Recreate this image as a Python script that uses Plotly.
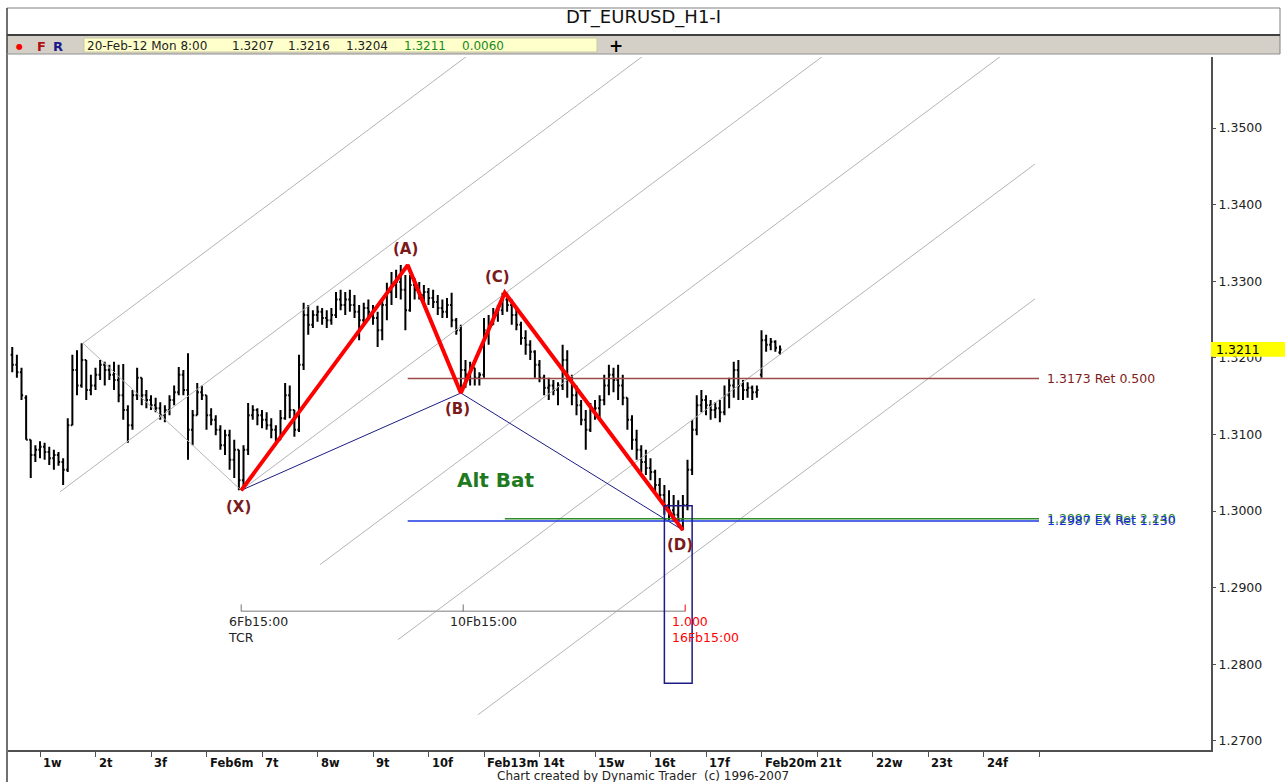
import numpy as np
import pandas as pd
import plotly.graph_objects as go

# ---------------- data ----------------
TITLE = "DT_EURUSD_H1-I"
bar_start = "2012-01-31 12:00"
bar_end = "2012-02-20 08:00"

opens = [
    1.3204, 1.3191, 1.3181, 1.3148, 1.3093, 1.3073, 1.3080, 1.3084, 1.3077, 1.3069, 1.3073, 1.3064,
    1.3054, 1.3112, 1.3184, 1.3164, 1.3197, 1.3158, 1.3164, 1.3178, 1.3191, 1.3184, 1.3178, 1.3171,
    1.3151, 1.3132, 1.3112, 1.3151, 1.3174, 1.3151, 1.3145, 1.3138, 1.3134, 1.3125, 1.3132, 1.3145,
    1.3155, 1.3178, 1.3158, 1.3106, 1.3125, 1.3155, 1.3151, 1.3125, 1.3119, 1.3106, 1.3086, 1.3099,
    1.3067, 1.3080, 1.3040, 1.3080, 1.3125, 1.3132, 1.3125, 1.3119, 1.3112, 1.3106, 1.3093, 1.3121,
    1.3151, 1.3132, 1.3106, 1.3191, 1.3256, 1.3243, 1.3256, 1.3260, 1.3252, 1.3249, 1.3256, 1.3276,
    1.3269, 1.3276, 1.3269, 1.3260, 1.3249, 1.3265, 1.3260, 1.3252, 1.3236, 1.3269, 1.3286, 1.3295,
    1.3299, 1.3289, 1.3262, 1.3295, 1.3289, 1.3282, 1.3286, 1.3278, 1.3273, 1.3265, 1.3260, 1.3269,
    1.3249, 1.3236, 1.3184, 1.3178, 1.3187, 1.3174, 1.3178, 1.3236, 1.3243, 1.3256, 1.3262, 1.3276,
    1.3269, 1.3256, 1.3243, 1.3226, 1.3217, 1.3208, 1.3191, 1.3174, 1.3161, 1.3164, 1.3158, 1.3164,
    1.3197, 1.3171, 1.3151, 1.3138, 1.3119, 1.3106, 1.3132, 1.3134, 1.3145, 1.3164, 1.3178, 1.3171,
    1.3164, 1.3148, 1.3119, 1.3093, 1.3080, 1.3064, 1.3056, 1.3051, 1.3034, 1.3021, 1.3008, 1.3001,
    1.2995, 1.2988, 1.3008, 1.3054, 1.3106, 1.3138, 1.3145, 1.3138, 1.3132, 1.3134, 1.3129, 1.3151,
    1.3164, 1.3184, 1.3164, 1.3158, 1.3161, 1.3155, 1.3178, 1.3223, 1.3217, 1.3221, 1.3207,
]
highs = [
    1.3214, 1.3204, 1.3187, 1.3151, 1.3093, 1.3086, 1.3091, 1.3089, 1.3084, 1.3080, 1.3077, 1.3069,
    1.3121, 1.3204, 1.3210, 1.3219, 1.3197, 1.3178, 1.3187, 1.3197, 1.3195, 1.3191, 1.3195, 1.3191,
    1.3192, 1.3138, 1.3158, 1.3187, 1.3174, 1.3158, 1.3151, 1.3148, 1.3142, 1.3138, 1.3151, 1.3164,
    1.3188, 1.3184, 1.3206, 1.3132, 1.3167, 1.3164, 1.3151, 1.3134, 1.3125, 1.3112, 1.3106, 1.3106,
    1.3093, 1.3080, 1.3086, 1.3141, 1.3138, 1.3134, 1.3132, 1.3129, 1.3121, 1.3112, 1.3132, 1.3167,
    1.3164, 1.3132, 1.3204, 1.3272, 1.3269, 1.3262, 1.3268, 1.3265, 1.3262, 1.3265, 1.3286, 1.3289,
    1.3286, 1.3289, 1.3282, 1.3269, 1.3272, 1.3276, 1.3269, 1.3260, 1.3276, 1.3298, 1.3312, 1.3315,
    1.3321, 1.3308, 1.3308, 1.3304, 1.3299, 1.3295, 1.3291, 1.3289, 1.3282, 1.3276, 1.3278, 1.3285,
    1.3252, 1.3243, 1.3197, 1.3195, 1.3187, 1.3181, 1.3252, 1.3256, 1.3265, 1.3269, 1.3285, 1.3285,
    1.3276, 1.3265, 1.3247, 1.3236, 1.3223, 1.3210, 1.3197, 1.3178, 1.3174, 1.3171, 1.3168, 1.3217,
    1.3210, 1.3178, 1.3164, 1.3145, 1.3132, 1.3141, 1.3145, 1.3151, 1.3178, 1.3191, 1.3187, 1.3191,
    1.3178, 1.3148, 1.3125, 1.3106, 1.3086, 1.3080, 1.3069, 1.3054, 1.3043, 1.3034, 1.3027, 1.3021,
    1.3014, 1.3021, 1.3067, 1.3119, 1.3151, 1.3158, 1.3151, 1.3145, 1.3142, 1.3145, 1.3164, 1.3174,
    1.3195, 1.3197, 1.3171, 1.3168, 1.3164, 1.3164, 1.3236, 1.3230, 1.3226, 1.3223, 1.3216,
]
lows = [
    1.3181, 1.3174, 1.3145, 1.3093, 1.3043, 1.3064, 1.3069, 1.3067, 1.3060, 1.3054, 1.3059, 1.3034,
    1.3051, 1.3112, 1.3151, 1.3161, 1.3145, 1.3151, 1.3158, 1.3171, 1.3164, 1.3171, 1.3158, 1.3142,
    1.3119, 1.3089, 1.3106, 1.3145, 1.3138, 1.3134, 1.3132, 1.3129, 1.3119, 1.3116, 1.3125, 1.3138,
    1.3151, 1.3151, 1.3067, 1.3086, 1.3125, 1.3145, 1.3106, 1.3112, 1.3099, 1.3080, 1.3073, 1.3054,
    1.3043, 1.3027, 1.3030, 1.3073, 1.3119, 1.3112, 1.3108, 1.3106, 1.3095, 1.3086, 1.3093, 1.3119,
    1.3121, 1.3097, 1.3103, 1.3184, 1.3230, 1.3239, 1.3247, 1.3243, 1.3239, 1.3243, 1.3252, 1.3262,
    1.3256, 1.3260, 1.3252, 1.3223, 1.3243, 1.3249, 1.3243, 1.3214, 1.3223, 1.3249, 1.3269, 1.3278,
    1.3276, 1.3236, 1.3260, 1.3276, 1.3276, 1.3273, 1.3269, 1.3265, 1.3256, 1.3252, 1.3252, 1.3240,
    1.3230, 1.3154, 1.3161, 1.3164, 1.3164, 1.3164, 1.3174, 1.3217, 1.3243, 1.3247, 1.3256, 1.3260,
    1.3243, 1.3236, 1.3217, 1.3204, 1.3197, 1.3174, 1.3168, 1.3151, 1.3145, 1.3151, 1.3138, 1.3158,
    1.3148, 1.3138, 1.3125, 1.3112, 1.3080, 1.3103, 1.3119, 1.3121, 1.3138, 1.3151, 1.3155, 1.3145,
    1.3138, 1.3106, 1.3080, 1.3067, 1.3051, 1.3047, 1.3040, 1.3025, 1.3014, 1.2995, 1.2988, 1.2986,
    1.2980, 1.2975, 1.3001, 1.3047, 1.3099, 1.3129, 1.3125, 1.3119, 1.3121, 1.3116, 1.3125, 1.3134,
    1.3148, 1.3145, 1.3145, 1.3148, 1.3145, 1.3148, 1.3174, 1.3208, 1.3210, 1.3208, 1.3204,
]
closes = [
    1.3191, 1.3181, 1.3151, 1.3093, 1.3073, 1.3080, 1.3084, 1.3077, 1.3069, 1.3073, 1.3064, 1.3054,
    1.3112, 1.3184, 1.3164, 1.3197, 1.3158, 1.3164, 1.3178, 1.3191, 1.3184, 1.3178, 1.3171, 1.3151,
    1.3132, 1.3112, 1.3151, 1.3174, 1.3151, 1.3145, 1.3138, 1.3134, 1.3125, 1.3132, 1.3145, 1.3155,
    1.3178, 1.3158, 1.3106, 1.3125, 1.3155, 1.3151, 1.3125, 1.3119, 1.3106, 1.3086, 1.3099, 1.3067,
    1.3080, 1.3040, 1.3080, 1.3125, 1.3132, 1.3125, 1.3119, 1.3112, 1.3106, 1.3093, 1.3121, 1.3151,
    1.3132, 1.3106, 1.3191, 1.3256, 1.3243, 1.3256, 1.3260, 1.3252, 1.3249, 1.3256, 1.3276, 1.3269,
    1.3276, 1.3269, 1.3260, 1.3249, 1.3265, 1.3260, 1.3252, 1.3236, 1.3269, 1.3286, 1.3295, 1.3299,
    1.3289, 1.3262, 1.3295, 1.3289, 1.3282, 1.3286, 1.3278, 1.3273, 1.3265, 1.3260, 1.3269, 1.3249,
    1.3236, 1.3184, 1.3178, 1.3187, 1.3174, 1.3178, 1.3236, 1.3243, 1.3256, 1.3262, 1.3276, 1.3269,
    1.3256, 1.3243, 1.3226, 1.3217, 1.3208, 1.3191, 1.3174, 1.3161, 1.3164, 1.3158, 1.3164, 1.3197,
    1.3171, 1.3151, 1.3138, 1.3119, 1.3106, 1.3132, 1.3134, 1.3145, 1.3164, 1.3178, 1.3171, 1.3164,
    1.3148, 1.3119, 1.3093, 1.3080, 1.3064, 1.3056, 1.3051, 1.3034, 1.3021, 1.3008, 1.3001, 1.2995,
    1.2988, 1.3008, 1.3054, 1.3106, 1.3138, 1.3145, 1.3138, 1.3132, 1.3134, 1.3129, 1.3151, 1.3164,
    1.3184, 1.3164, 1.3158, 1.3161, 1.3155, 1.3158, 1.3223, 1.3217, 1.3221, 1.3213, 1.3211,
]

tick_dates = ["2012-02-01", "2012-02-02", "2012-02-03", "2012-02-06", "2012-02-07", "2012-02-08",
              "2012-02-09", "2012-02-10", "2012-02-13", "2012-02-14", "2012-02-15", "2012-02-16",
              "2012-02-17", "2012-02-20", "2012-02-21", "2012-02-22", "2012-02-23", "2012-02-24",
              "2012-02-27"]
tick_labels = ["1w", "2t", "3f", "Feb6m", "7t", "8w", "9t", "10f", "Feb13m", "14t", "15w", "16t",
               "17f", "Feb20m", "21t", "22w", "23t", "24f", ""]
y_ticks = [1.27, 1.28, 1.29, 1.30, 1.31, 1.32, 1.33, 1.34, 1.35]

pattern_names = ["(X)", "(A)", "(B)", "(C)", "(D)"]
pattern_times = ["2012-02-06 15:00", "2012-02-09 15:00", "2012-02-10 14:00",
                 "2012-02-13 09:00", "2012-02-16 14:00"]
pattern_prices = [1.3027, 1.3321, 1.3154, 1.3285, 1.2975]

channel_lines = [
    ("2012-02-01 18:36", 1.3219, "2012-02-10 16:13", 1.3593),
    ("2012-02-01 08:38", 1.3025, "2012-02-15 20:20", 1.3593),
    ("2012-02-06 15:00", 1.3027, "2012-02-21 02:10", 1.3593),
    ("2012-02-08 01:05", 1.2930, "2012-02-24 07:08", 1.3593),
    ("2012-02-09 10:48", 1.2832, "2012-02-24 22:16", 1.3453),
    ("2012-02-10 21:24", 1.2734, "2012-02-24 22:16", 1.3277),
    ("2012-02-01 18:36", 1.3219, "2012-02-06 15:00", 1.3027),
]

level_names = ["1.3173 Ret 0.500", "1.2990 EX Ret 2.240", "1.2987 EX Ret 1.130"]
level_prices = [1.3173, 1.2990, 1.2987]
level_starts = ["2012-02-09 15:00", "2012-02-13 09:00", "2012-02-09 15:00"]
level_end = "2012-02-27 00:00"

box_times = ["2012-02-16 06:00", "2012-02-16 18:00"]
box_prices = [1.2775, 1.3007]

marker_times = ["2012-02-06 15:00", "2012-02-10 15:00", "2012-02-16 15:00"]
marker_texts = ["6Fb15:00<br>TCR", "10Fb15:00", "1.000<br>16Fb15:00"]
marker_price = 1.2869

alt_bat_time, alt_bat_price = "2012-02-13 05:00", 1.3040

last_bar_label = "20-Feb-12 Mon 8:00"
last_open, last_high, last_low, last_close, last_change = 1.3207, 1.3216, 1.3204, 1.3211, 0.0060

# ---------------- helpers ----------------
def tday(ts):
    ts = pd.Timestamp(ts)
    d = np.busday_count(np.datetime64("2012-02-01"), np.datetime64(ts.date(), "D"))
    return float(d) + ts.hour / 24 + ts.minute / 1440

W, H = 1285, 782
L, R, T, B = 8, 74, 57, 32
PW, PH = W - L - R, H - T - B

def P(x, y):
    return (x - L) / PW, (H - B - y) / PH

bar_times = [t for t in pd.date_range(bar_start, bar_end, freq="2h") if t.weekday() < 5]
bx = [tday(t) for t in bar_times]

FONT = "DejaVu Sans"
GRAY = "#b4b4b4"
NAVY = "#1c1c84"

fig = go.Figure()

# channel lines
for (t0, p0, t1, p1) in channel_lines:
    fig.add_trace(go.Scatter(x=[tday(t0), tday(t1)], y=[p0, p1], mode="lines",
                             line=dict(color=GRAY, width=1), hoverinfo="skip"))

# navy X-B-D lines
nav_idx = [0, 2, 4]
fig.add_trace(go.Scatter(x=[tday(pattern_times[i]) for i in nav_idx],
                         y=[pattern_prices[i] for i in nav_idx], mode="lines",
                         line=dict(color=NAVY, width=1), hoverinfo="skip"))

# fib levels
level_colors = ["#9c4a4a", "#2e8b2e", "#1a3ae0"]
level_text_colors = ["#7f1a1a", "#2e8b2e", "#1a2ad8"]
for name, pr, st, lc in zip(level_names, level_prices, level_starts, level_colors):
    fig.add_trace(go.Scatter(x=[tday(st), tday(level_end)], y=[pr, pr], mode="lines",
                             line=dict(color=lc, width=1.5), hoverinfo="skip"))

# time markers
mx = [tday(t) for t in marker_times]
fig.add_trace(go.Scatter(x=[mx[0], mx[-1]], y=[marker_price, marker_price], mode="lines",
                         line=dict(color="#a8a8a8", width=1.5), hoverinfo="skip"))
for i, x in enumerate(mx):
    col = "#ff0000" if i == len(mx) - 1 else "#707070"
    fig.add_trace(go.Scatter(x=[x, x], y=[marker_price, marker_price + 0.0009], mode="lines",
                             line=dict(color=col, width=1), hoverinfo="skip"))

# price bars
fig.add_trace(go.Ohlc(x=bx, open=opens, high=highs, low=lows, close=closes,
                      increasing=dict(line=dict(color="black", width=2)),
                      decreasing=dict(line=dict(color="black", width=2)),
                      tickwidth=0.35, hoverinfo="skip"))

# red pattern lines
fig.add_trace(go.Scatter(x=[tday(t) for t in pattern_times], y=pattern_prices, mode="lines",
                         line=dict(color="#ff0000", width=4), hoverinfo="skip"))

shapes = []
annotations = []

def ann(**kw):
    kw.setdefault("showarrow", False)
    kw.setdefault("xanchor", "center")
    kw.setdefault("yanchor", "middle")
    annotations.append(kw)

# box around D
shapes.append(dict(type="rect", xref="x", yref="y",
                   x0=tday(box_times[0]), x1=tday(box_times[1]),
                   y0=box_prices[0], y1=box_prices[1],
                   line=dict(color=NAVY, width=1.5)))

# pattern labels
offs = [(-3, -17), (-2, 16), (-3, -16), (-7, 16), (-3, -15)]
for name, t, pr, (dx, dy) in zip(pattern_names, pattern_times, pattern_prices, offs):
    ann(x=tday(t), y=pr, xref="x", yref="y", text=name, xshift=dx, yshift=dy,
        font=dict(family=FONT, size=15, color="#7a1a1a", weight="bold"))

ann(x=tday(alt_bat_time), y=alt_bat_price, xref="x", yref="y", text="Alt Bat",
    font=dict(family=FONT, size=20, color="#1f7a1f", weight="bold"))

# level labels
for name, pr, tc in zip(level_names, level_prices, level_text_colors):
    ann(x=tday(level_end), y=pr, xref="x", yref="y", text=name, xanchor="left", xshift=6,
        font=dict(family=FONT, size=12.5, color=tc))

# marker labels
for i, (x, txt) in enumerate(zip(mx, marker_texts)):
    col = "#ff0000" if i == len(mx) - 1 else "#222222"
    ann(x=x, y=marker_price, xref="x", yref="y", text=txt, xanchor="left", yanchor="top",
        xshift=-15, yshift=-1, align="left", font=dict(family=FONT, size=12.5, color=col))

# x tick labels
for d, lab in zip(tick_dates, tick_labels):
    if lab:
        ann(x=tday(d), y=P(0, 763)[1], xref="x", yref="paper", text=lab, xanchor="left", xshift=1,
            font=dict(family=FONT, size=11.5, color="#111", weight="bold"))

# title, frame, toolbar
x0p, _ = P(7, 0)
x1p, _ = P(1280, 0)
_, ytop = P(0, 8)
_, ybar = P(0, 35)
_, ytb0 = P(0, 36)
_, ytb1 = P(0, 54)
shapes += [
    dict(type="line", xref="paper", yref="paper", x0=x0p, x1=x1p, y0=ytop, y1=ytop,
         line=dict(color="#808080", width=1)),
    dict(type="line", xref="paper", yref="paper", x0=x0p, x1=x0p, y0=ytop, y1=P(0, 782)[1],
         line=dict(color="#404040", width=1.5)),
    dict(type="line", xref="paper", yref="paper", x0=x1p, x1=x1p, y0=ytop, y1=ytb1,
         line=dict(color="#808080", width=1)),
    dict(type="rect", xref="paper", yref="paper", x0=x0p, x1=x1p, y0=ytb1, y1=ytb0,
         fillcolor="#d4d0c8", line=dict(width=0), layer="below"),
    dict(type="line", xref="paper", yref="paper", x0=x0p, x1=x1p, y0=ybar, y1=ybar,
         line=dict(color="#404040", width=2)),
    dict(type="line", xref="paper", yref="paper", x0=x0p, x1=x1p, y0=ytb1, y1=ytb1,
         line=dict(color="#909090", width=1)),
    dict(type="rect", xref="paper", yref="paper", x0=P(84, 0)[0], x1=P(597, 0)[0],
         y0=P(0, 52)[1], y1=P(0, 38)[1], fillcolor="#ffffcc", line=dict(color="#c8c8a0", width=1)),
    # current price label on the axis
    dict(type="rect", xref="paper", yref="y", x0=1.0, x1=P(1285, 0)[0],
         y0=last_close - 0.00095, y1=last_close + 0.00095, fillcolor="#ffff00", line=dict(width=0)),
]

ann(x=P(643, 0)[0], y=P(0, 17)[1], xref="paper", yref="paper", text=TITLE,
    font=dict(family=FONT, size=18, color="#111"))
ty = P(0, 46)[1]
ann(x=P(19, 0)[0], y=ty, xref="paper", yref="paper", text="●",
    font=dict(family=FONT, size=8, color="#ff0000"))
ann(x=P(41, 0)[0], y=ty, xref="paper", yref="paper", text="F",
    font=dict(family=FONT, size=13, color="#b01010", weight="bold"))
ann(x=P(58, 0)[0], y=ty, xref="paper", yref="paper", text="R",
    font=dict(family=FONT, size=13, color="#1a1a8a", weight="bold"))
ann(x=P(616, 0)[0], y=ty, xref="paper", yref="paper", text="+",
    font=dict(family=FONT, size=17, color="#000", weight="bold"))
tb_items = [(last_bar_label, 85, "#222"), (f"{last_open:.4f}", 230, "#222"),
            (f"{last_high:.4f}", 286, "#222"), (f"{last_low:.4f}", 344, "#222"),
            (f"{last_close:.4f}", 402, "#1a8a1a"), (f"{last_change:.4f}", 460, "#1a8a1a")]
for txt, xp, col in tb_items:
    ann(x=P(xp, 0)[0], y=ty, xref="paper", yref="paper", text=txt, xanchor="left",
        font=dict(family=FONT, size=12, color=col))

ann(x=P(1214, 0)[0], y=last_close, xref="paper", yref="y", text=f"{last_close:.4f}",
    xanchor="left", font=dict(family=FONT, size=12.5, color="#000"))
ann(x=P(643, 0)[0], y=P(0, 776)[1], xref="paper", yref="paper",
    text="Chart created by Dynamic Trader  (c) 1996-2007",
    font=dict(family=FONT, size=12, color="#222"))

fig.update_layout(
    width=W, height=H, margin=dict(l=L, r=R, t=T, b=B, autoexpand=False),
    paper_bgcolor="white", plot_bgcolor="white", showlegend=False, hovermode=False,
    xaxis=dict(range=[-0.5766, 21.099], showgrid=False, zeroline=False, showline=True,
               linecolor="#505050", linewidth=2, ticks="outside", ticklen=5, tickcolor="#505050",
               tickvals=[tday(d) for d in tick_dates], showticklabels=False,
               rangeslider=dict(visible=False), automargin=False),
    yaxis=dict(side="right", range=[1.2688, 1.35927], showgrid=False, zeroline=False,
               showline=True, linecolor="#505050", linewidth=2, ticks="outside", ticklen=3,
               tickcolor="#505050", tickvals=y_ticks, ticktext=[f"{v:.4f}" for v in y_ticks],
               tickfont=dict(family=FONT, size=12.5, color="#222"), automargin=False),
    shapes=shapes, annotations=annotations,
)

fig.write_html("out.html", config={"displayModeBar": False},
               post_script="document.body.style.margin='0px';document.body.style.overflow='hidden';")
